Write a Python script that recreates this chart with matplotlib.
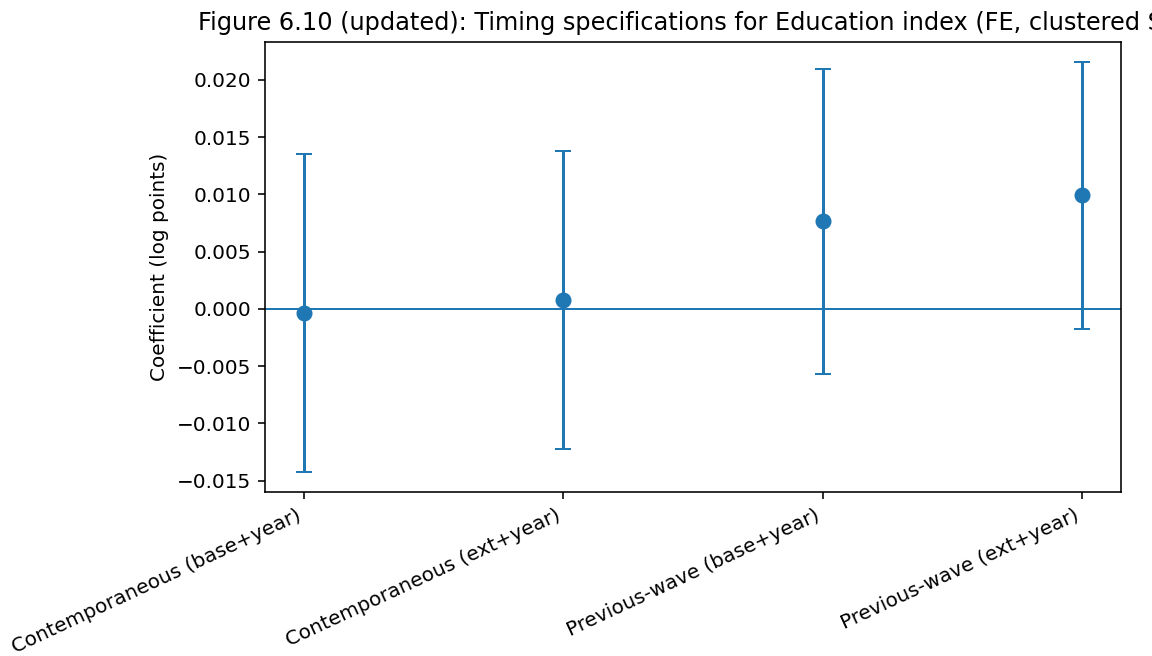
import matplotlib
matplotlib.use("Agg")
import matplotlib.pyplot as plt
import numpy as np

specs = [
    "Contemporaneous (base+year)",
    "Contemporaneous (ext+year)",
    "Previous-wave (base+year)",
    "Previous-wave (ext+year)",
]
coef = [-0.00032, 0.00081, 0.00765, 0.00991]
ci_low = [-0.01420, -0.01226, -0.00565, -0.00171]
ci_high = [0.01354, 0.01383, 0.02096, 0.02152]

DPI = 144
fig = plt.figure(figsize=(1152 / DPI, 656 / DPI), dpi=DPI)
ax = fig.add_axes([265 / 1152, 1 - 492 / 656, (1121 - 265) / 1152, (492 - 42) / 656])

x = np.arange(len(specs))
c = np.array(coef)
yerr = np.vstack([c - np.array(ci_low), np.array(ci_high) - c])
ax.errorbar(x, c, yerr=yerr, fmt="o", capsize=4, markersize=7)
ax.axhline(0, linewidth=1)

ax.set_xticks(x)
ax.set_xticklabels(specs, rotation=25, ha="right")
ax.set_ylabel("Coefficient (log points)")
ax.set_title("Figure 6.10 (updated): Timing specifications for Education index (FE, clustered SE)")

fig.savefig("out.png", dpi=DPI)
